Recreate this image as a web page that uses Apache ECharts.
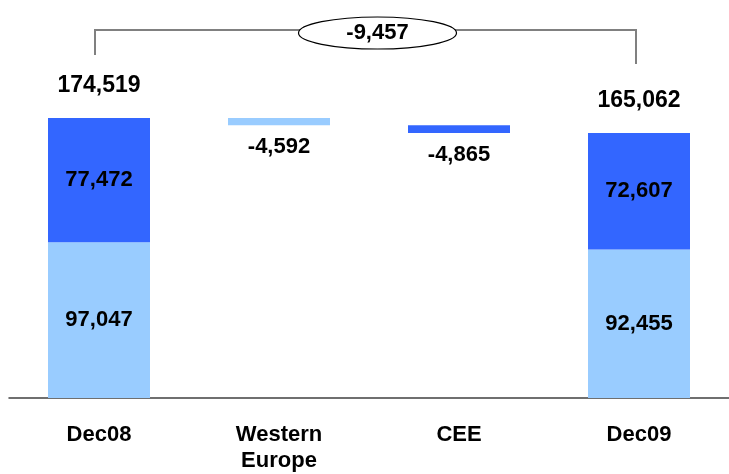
<!DOCTYPE html>
<html>
<head>
<meta charset="utf-8">
<style>
html, body { margin: 0; padding: 0; background: #fff; }
#main { width: 729px; height: 474px; }
</style>
<script src="https://cdn.jsdelivr.net/npm/echarts@6/dist/echarts.min.js"></script>
</head>
<body>
<div id="main"></div>
<script>
// data
var categories = ['Dec08', 'Western\nEurope', 'CEE', 'Dec09'];
var lightVals = [97047, 4592, '-', 92455];   // Western Europe part
var darkVals = [77472, '-', 4865, 72607];    // CEE part
var totals = [174519, 165062];
var deltaLabel = '-9,457';

// invisible base for the floating bars
var baseVals = ['-', totals[0] - lightVals[1], totals[0] - lightVals[1] - darkVals[2], '-'];

var font = 'Liberation Sans';
var light = '#99CCFF';
var dark = '#3366FF';

function fmt(v) {
    return Math.round(v).toLocaleString('en-US');
}

// floating (change) bars get their label below the bar, with a minus sign
function buildData(vals, floatIdx) {
    return vals.map(function (v, i) {
        if (i !== floatIdx) return v;
        return {
            value: v,
            label: { position: 'bottom', distance: 11, formatter: '-' + fmt(v) }
        };
    });
}

var labelStyle = {
    show: true, position: 'inside', color: '#000',
    fontFamily: font, fontWeight: 'bold', fontSize: 22,
    formatter: function (p) { return fmt(p.value); }
};

var chart = echarts.init(document.getElementById('main'));
chart.setOption({
    animation: false,
    grid: { left: 9, width: 728, top: 77, bottom: 71 },
    xAxis: {
        type: 'category',
        data: categories,
        axisTick: { show: false },
        axisLine: { lineStyle: { color: '#404040', width: 1.5 } },
        axisLabel: {
            color: '#000', fontFamily: font, fontWeight: 'bold', fontSize: 22,
            margin: 24, lineHeight: 26, interval: 0, verticalAlign: 'top'
        }
    },
    yAxis: {
        type: 'value', min: 0, max: 200000,
        show: false, splitLine: { show: false }
    },
    series: [
        {
            type: 'bar', stack: 'w', data: baseVals, barWidth: 102,
            itemStyle: { color: 'transparent' }, silent: true
        },
        {
            type: 'bar', stack: 'w', data: buildData(lightVals, 1), barWidth: 102,
            itemStyle: { color: light },
            label: labelStyle
        },
        {
            type: 'bar', stack: 'w', data: buildData(darkVals, 2), barWidth: 102,
            itemStyle: { color: dark },
            label: labelStyle
        },
        {
            // totals above the Dec08 / Dec09 bars
            type: 'bar', stack: 'w', barWidth: 102,
            data: [0, '-', '-', 0],
            itemStyle: { color: 'transparent' },
            label: {
                show: true, position: 'top', distance: 21,
                fontFamily: font, fontWeight: 'bold', fontSize: 23, color: '#000',
                formatter: function (p) {
                    return fmt(p.dataIndex === 0 ? totals[0] : totals[1]);
                }
            }
        }
    ]
});

// bracket with the change between the two totals
var xl = chart.convertToPixel({ xAxisIndex: 0 }, categories[0]) - 4;
var xr = chart.convertToPixel({ xAxisIndex: 0 }, categories[3]) - 3;
var xm = (xl + xr) / 2 + 12;
chart.setOption({
    graphic: [
        {
            type: 'polyline', z: 10,
            shape: { points: [[xl, 55], [xl, 30], [xr, 30], [xr, 64]] },
            style: { stroke: '#808080', lineWidth: 2, fill: null }
        },
        {
            type: 'ellipse', z: 11,
            shape: { cx: xm, cy: 33, rx: 79, ry: 16 },
            style: { fill: '#fff', stroke: '#000', lineWidth: 1.2 }
        },
        {
            type: 'text', z: 12, x: xm, y: 33,
            style: {
                text: deltaLabel, fill: '#000', font: 'bold 22px "Liberation Sans"',
                align: 'center', verticalAlign: 'middle'
            }
        }
    ]
});
</script>
</body>
</html>
